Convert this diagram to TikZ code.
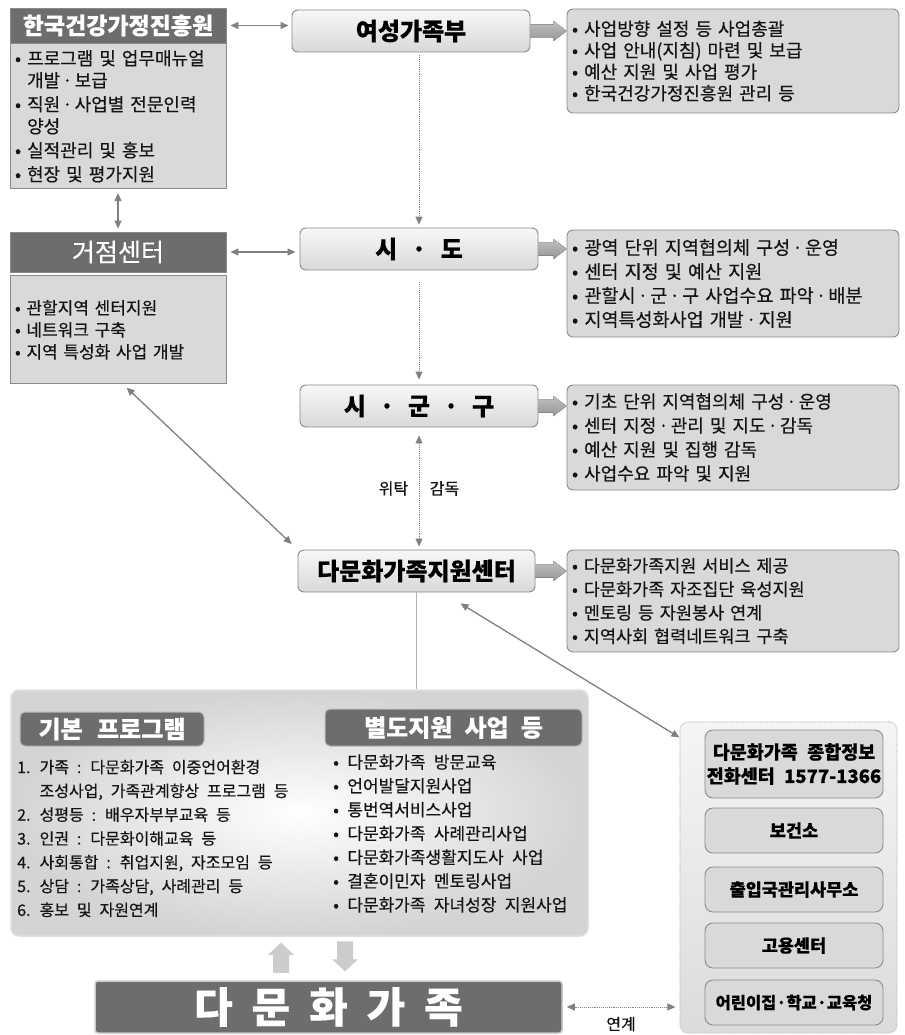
\documentclass[tikz,border=0pt]{standalone}
\usepackage{fontspec}
\setmainfont[WordSpace=2.2, FakeBold=0.35]{Noto Sans CJK KR}
\usetikzlibrary{calc,arrows.meta}
\definecolor{hdr}{HTML}{6D6D6D}
\definecolor{bodyg}{HTML}{D9D9D9}
\definecolor{edgeg}{HTML}{8A8A8A}
\definecolor{arrg}{HTML}{808080}
\definecolor{txt}{HTML}{141414}
\newcommand{\md}{\hspace{0.12em}·\hspace{0.12em}}
\tikzset{
 >={Triangle[length=8pt,width=7pt]},
 hdrbox/.style={draw=edgeg, fill=hdr, text=white, line width=0.8pt, inner sep=0pt},
 bodybox/.style={draw=edgeg, fill=bodyg, line width=0.8pt, inner xsep=5pt, inner ysep=0pt, align=left, text=txt},
 mainbox/.style={draw=edgeg, rounded corners=6pt, top color=gray!6, bottom color=gray!30, line width=0.9pt, font=\bfseries\fontsize{24}{28}\selectfont, text=black, inner sep=0pt},
 listbox/.style={draw=edgeg, rounded corners=6pt, fill=bodyg, line width=0.9pt, align=left, inner xsep=5pt, text width=322pt, inner ysep=0pt, text=txt},
 dbl/.style={<->, draw=arrg, line width=1.3pt},
 dotarr/.style={densely dotted, draw=arrg, line width=0.9pt},
 fatc/.style={top color=gray!50, bottom color=gray!82, draw=none},
 litefat/.style={fill=gray!40, draw=none},
 lbl/.style={font=\fontsize{16}{18}\selectfont, text=txt},
 ibox/.style={draw=edgeg, rounded corners=8pt, fill=bodyg, line width=0.9pt, minimum width=178pt, font=\bfseries\fontsize{17.5}{23}\selectfont, align=center, inner sep=0pt, text=black},
 darkhead/.style={draw=gray!55, fill=hdr, rounded corners=5pt, line width=1pt, text=white, font=\bfseries\fontsize{24}{26}\selectfont, inner sep=0pt},
}
\newcommand{\fatarrow}[2]{%
 \fill[fatc] ($(#1.east)+(0,-6.5)$) -- ($(#1.east -| #2.west)+(-13,-6.5)$) -- ($(#1.east -| #2.west)+(-13,-10)$) -- (#1.east -| #2.west) -- ($(#1.east -| #2.west)+(-13,10)$) -- ($(#1.east -| #2.west)+(-13,6.5)$) -- ($(#1.east)+(0,6.5)$) -- cycle;}
\begin{document}
\begin{tikzpicture}[x=1pt,y=-1pt]
\path[use as bounding box, fill=white] (0,0) rectangle (904,1035);

% left column
\node[hdrbox, minimum width=216, minimum height=35, font=\bfseries\fontsize{23}{25}\selectfont] (kihf) at (118,25.5) {한국건강가정진흥원};
\node[bodybox, anchor=north, minimum height=145, text width=206pt, font=\fontsize{18}{22}\selectfont] (kihfb) at (kihf.south) {• 프로그램 및 업무매뉴얼\\\phantom{• }개발\md 보급\\[2pt] • 직원\md 사업별 전문인력\\\phantom{• }양성\\[2pt] • 실적관리 및 홍보\\[2pt] • 현장 및 평가지원};

\node[hdrbox, minimum width=216, minimum height=40, font=\fontsize{25}{27}\selectfont] (gj) at (118,252) {거점센터};
\node[bodybox, anchor=north, minimum height=108, text width=206pt, font=\fontsize{17}{22}\selectfont] (gjb) at ($(gj.south)+(0,3)$) {• 관할지역 센터지원\\ • 네트워크 구축\\ • 지역 특성화 사업 개발};

% main column
\node[mainbox, minimum width=238, minimum height=42] (mogef) at (411,31) {여성가족부};
\node[mainbox, minimum width=238, minimum height=42] (sido) at (419,249) {시\hspace{0.6em}·\hspace{0.6em}도};
\node[mainbox, minimum width=238, minimum height=42] (sgg) at (419,406) {시\hspace{0.57em}·\hspace{0.57em}군\hspace{0.57em}·\hspace{0.57em}구};
\node[mainbox, minimum width=237, minimum height=42] (mfsc) at (416.5,571) {다문화가족지원센터};

% lists
\node[listbox, minimum height=104, font=\fontsize{18}{21.5}\selectfont] (la) at (733,61) {• 사업방향 설정 등 사업총괄\\ • 사업 안내(지침) 마련 및 보급\\ • 예산 지원 및 사업 평가\\ • 한국건강가정진흥원 관리 등};
\node[listbox, minimum height=107, font=\fontsize{18.5}{24}\selectfont] (lb) at (733,283.5) {• 광역 단위 지역협의체 구성\md 운영\\ • 센터 지정 및 예산 지원\\ • 관할시\md 군\md 구 사업수요 파악\md 배분\\ • 지역특성화사업 개발\md 지원};
\node[listbox, minimum height=105, font=\fontsize{18}{24}\selectfont] (lc) at (733,437.5) {• 기초 단위 지역협의체 구성\md 운영\\ • 센터 지정\md 관리 및 지도\md 감독\\ • 예산 지원 및 집행 감독\\ • 사업수요 파악 및 지원};
\node[listbox, minimum height=102, font=\fontsize{17.5}{23.5}\selectfont] (ld) at (733,601) {• 다문화가족지원 서비스 제공\\ • 다문화가족 자조집단 육성지원\\ • 멘토링 등 자원봉사 연계\\ • 지역사회 협력네트워크 구축};

% bottom program box
\node[draw=gray!25, line width=1.5pt, rounded corners=8pt, inner color=white, outer color=gray!34, minimum width=577, minimum height=246, inner sep=0pt] (big) at (299.5,813) {};
\node[darkhead, minimum width=184, minimum height=34] (kb) at (112,729) {기본\hspace{0.6em}프로그램};
\node[darkhead, minimum width=257, minimum height=37] (bj) at (453.5,727.5) {별도지원 사업 등};
\node[anchor=west, align=left, font=\fontsize{16}{23.8}\selectfont, text=txt, inner sep=0pt] (kbl) at (17,838.5) {1. 가족 : 다문화가족 이중언어환경\\\phantom{1. }조성사업, 가족관계향상 프로그램 등\\2. 성평등 : 배우자부부교육 등\\3. 인권 : 다문화이해교육 등\\4. 사회통합 : 취업지원, 자조모임 등\\5. 상담 : 가족상담, 사례관리 등\\6. 홍보 및 자원연계};
\node[anchor=west, align=left, font=\fontsize{17}{23.8}\selectfont, text=txt, inner sep=0pt] (bjl) at (333,833.5) {• 다문화가족 방문교육\\ • 언어발달지원사업\\ • 통번역서비스사업\\ • 다문화가족 사례관리사업\\ • 다문화가족생활지도사 사업\\ • 결혼이민자 멘토링사업\\ • 다문화가족 자녀성장 지원사업};

% right panel
\node[draw=gray!40, densely dotted, line width=1.2pt, rounded corners=8pt, top color=gray!8, bottom color=gray!28, minimum width=217, minimum height=311, inner sep=0pt] (panel) at (788.5,877.5) {};
\node[ibox, minimum height=68, font=\bfseries\fontsize{18.5}{24}\selectfont] (ib1) at (794,764) {다문화가족 종합정보\\전화센터 1577-1366};
\node[ibox, minimum height=45] (ib2) at (794,830.5) {보건소};
\node[ibox, minimum height=45] (ib3) at (794,889.5) {출입국관리사무소};
\node[ibox, minimum height=45] (ib4) at (794,945.5) {고용센터};
\node[ibox, minimum height=45, font=\bfseries\fontsize{16.5}{20}\selectfont] (ib5) at (794,1002.5) {어린이집·학교·교육청};

% family box
\node[draw=gray!40, line width=1.5pt, fill=hdr, rounded corners=3pt, minimum width=467, minimum height=52, text=white, font=\bfseries\fontsize{42}{46}\selectfont, inner sep=0pt] (fam) at (328.5,1007) {다\hspace{0.45em}문\hspace{0.45em}화\hspace{0.45em}가\hspace{0.45em}족};

% connectors
\draw[dbl, shorten <=4pt, shorten >=3pt] (kihf.east) -- (kihf.east -| mogef.west);
\draw[dbl, shorten <=4pt, shorten >=3pt] (kihfb.south) -- (gj.north);
\draw[dbl, shorten <=4pt, shorten >=4pt] (gj.east) -- (gj.east -| sido.west);
\draw[dotarr, ->, shorten <=3pt, shorten >=3pt] (mogef.south -| sido.north) -- (sido.north);
\draw[dotarr, ->, shorten <=12pt, shorten >=5pt] (sido.south) -- (sgg.north);
\draw[dotarr, <->, shorten <=8pt, shorten >=3pt] (sgg.south) -- (sgg.south |- mfsc.north) node[midway, left=7pt, lbl]{위탁} node[midway, right=7pt, lbl]{감독};
\draw[dbl, shorten <=5pt, shorten >=8pt] ($(gjb.south)+(5,0)$) -- (mfsc.north west);
\draw[dbl] ($(mfsc.south)+(44,11)$) -- ($(panel.north west)+(0,16)$);
\draw[line width=1pt, draw=gray!60] (mfsc.south) -- (mfsc.south |- big.north);
\fatarrow{mogef}{la}
\fatarrow{sido}{lb}
\fatarrow{sgg}{lc}
\fatarrow{mfsc}{ld}
\draw[dotarr, <->, shorten <=4pt, shorten >=4pt] (fam.east) -- (fam.east -| panel.west) node[midway, below=6pt, lbl]{연계};

\coordinate (ux) at (281,0);
\coordinate (dx) at (345,0);
\fill[litefat] ($(big.south -| ux)+(0,6)$) -- ++(13,12) -- ++(-5,0) -- ++(0,18) -- ++(-16,0) -- ++(0,-18) -- ++(-5,0) -- cycle;
\fill[litefat] ($(fam.north -| dx)+(0,-9)$) -- ++(13,-12) -- ++(-5,0) -- ++(0,-18) -- ++(-16,0) -- ++(0,18) -- ++(-5,0) -- cycle;
\end{tikzpicture}
\end{document}
